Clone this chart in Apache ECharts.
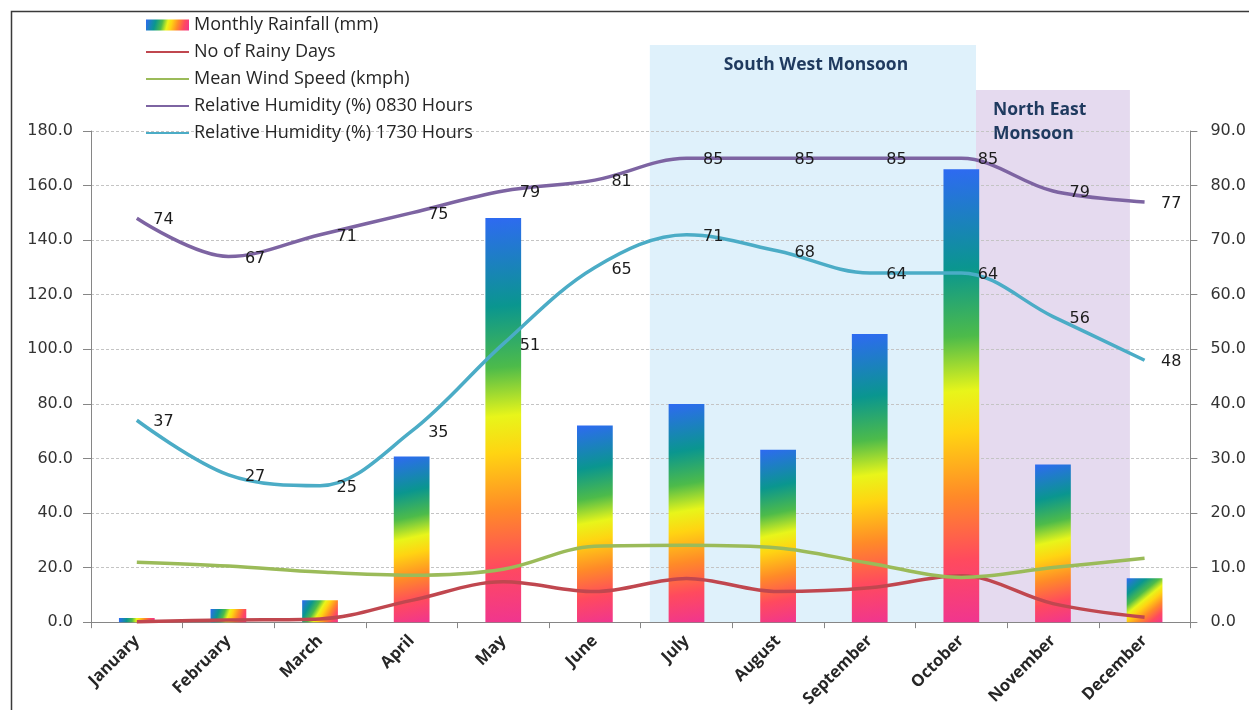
<!DOCTYPE html>
<html>
<head>
<meta charset="utf-8">
<title>Monthly Climate</title>
<script src="https://cdn.jsdelivr.net/npm/echarts@6/dist/echarts.min.js"></script>
<style>
  html, body { margin: 0; padding: 0; background: #ffffff; }
  #chart { width: 1249px; height: 710px; }
</style>
</head>
<body>
<div id="chart"></div>
<script>
// Month categories and monthly climate values
const months = ['January', 'February', 'March', 'April', 'May', 'June',
  'July', 'August', 'September', 'October', 'November', 'December'];
const rainfall = [1.5, 4.8, 8.0, 60.7, 148.1, 72.1, 80.0, 63.2, 105.6, 166.0, 57.8, 16.1];
const rainyDays = [0.1, 0.4, 0.6, 4.0, 7.4, 5.6, 8.0, 5.6, 6.3, 8.5, 3.4, 0.9];
const windSpeed = [11.0, 10.3, 9.2, 8.6, 9.7, 13.9, 14.1, 13.6, 10.8, 8.2, 10.0, 11.7];
const rhMorning = [74, 67, 71, 75, 79, 81, 85, 85, 85, 85, 79, 77];
const rhEvening = [37, 27, 25, 35, 51, 65, 71, 68, 64, 64, 56, 48];

// Axis ranges and tick steps
const leftAxisRange = [0, 180, 20];
const rightAxisRange = [0, 90, 10];

// Monsoon seasons, in month-band units along x and rainfall units for the top edge
const monsoons = [
  { x0: 6.1, x1: 9.66, top: 211.5, color: '#dff1fb', lines: ['South West Monsoon'], align: 'center' },
  { x0: 9.66, x1: 11.34, top: 195.0, color: '#e5daef', lines: ['North East', 'Monsoon'], align: 'left' }
];

const rainbow = {
  type: 'linear', x: 0, y: 0, x2: 1, y2: 1,
  colorStops: [
    { offset: 0.00, color: '#2e6af2' },
    { offset: 0.22, color: '#0a968f' },
    { offset: 0.37, color: '#4dbb4a' },
    { offset: 0.49, color: '#e8f51a' },
    { offset: 0.58, color: '#ffd412' },
    { offset: 0.72, color: '#ff8a28' },
    { offset: 0.86, color: '#ff4a5e' },
    { offset: 1.00, color: '#f0358f' }
  ]
};

const labelFont = 'DejaVu Sans';
const textFont = 'Open Sans';

function rhLabel() {
  return {
    show: true, position: 'right', distance: 16, offset: [0, 2],
    fontFamily: labelFont, fontSize: 16, color: '#1c1c1c'
  };
}

function lineSeries(name, data, color, withLabels) {
  const s = {
    name: name, type: 'line', yAxisIndex: 1, data: data,
    smooth: 0.35, symbol: 'circle', symbolSize: 1, showSymbol: true,
    lineStyle: { color: color, width: 3.5 },
    itemStyle: { color: 'rgba(0,0,0,0)' }, z: withLabels ? 4 : 3
  };
  if (withLabels) s.label = rhLabel();
  return s;
}

const chart = echarts.init(document.getElementById('chart'), null, { renderer: 'canvas' });

chart.setOption({
  animation: false,
  backgroundColor: '#ffffff',
  legend: {
    orient: 'vertical', left: 145, top: 16, padding: 0,
    itemWidth: 43, itemHeight: 11, itemGap: 9,
    textStyle: { fontFamily: textFont, fontSize: 18, color: '#262626', lineHeight: 17 },
    data: [
      { name: 'Monthly Rainfall (mm)', icon: 'rect' },
      'No of Rainy Days', 'Mean Wind Speed (kmph)',
      'Relative Humidity (%) 0830 Hours', 'Relative Humidity (%) 1730 Hours'
    ]
  },
  grid: { left: 91, right: 53, top: 131, bottom: 87 },
  xAxis: [
    {
      type: 'category', data: months, boundaryGap: true,
      axisLine: { lineStyle: { color: '#868686', width: 1 } },
      axisTick: { show: true, alignWithLabel: false, length: 6, lineStyle: { color: '#868686' } },
      axisLabel: {
        rotate: 45, interval: 0, margin: 16,
        fontFamily: textFont, fontSize: 16.5, fontWeight: 'bold', color: '#262626'
      },
      splitLine: { show: false }
    },
    { type: 'value', min: 0, max: 12, show: false }
  ],
  yAxis: [
    {
      type: 'value', min: leftAxisRange[0], max: leftAxisRange[1], interval: leftAxisRange[2],
      axisLine: { show: true, lineStyle: { color: '#868686' } },
      axisTick: { show: true, length: 8, lineStyle: { color: '#868686' } },
      axisLabel: { margin: 18, fontFamily: labelFont, fontSize: 16, color: '#333333', formatter: v => v.toFixed(1) },
      splitLine: { show: true, lineStyle: { color: '#c4c4c4', type: [3, 2], width: 1 } }
    },
    {
      type: 'value', position: 'right',
      min: rightAxisRange[0], max: rightAxisRange[1], interval: rightAxisRange[2],
      axisLine: { show: true, lineStyle: { color: '#868686' } },
      axisTick: { show: true, length: 7, lineStyle: { color: '#868686' } },
      axisLabel: { margin: 20, fontFamily: labelFont, fontSize: 16, color: '#333333', formatter: v => v.toFixed(1) },
      splitLine: { show: false }
    }
  ],
  series: [
    {
      name: 'Monthly Rainfall (mm)', type: 'bar', yAxisIndex: 0,
      barWidth: '39%', data: rainfall,
      itemStyle: { color: rainbow }, z: 2
    },
    lineSeries('No of Rainy Days', rainyDays, '#c0474f', false),
    lineSeries('Mean Wind Speed (kmph)', windSpeed, '#9bbb59', false),
    lineSeries('Relative Humidity (%) 0830 Hours', rhMorning, '#7d64a2', true),
    lineSeries('Relative Humidity (%) 1730 Hours', rhEvening, '#4bacc6', true)
  ]
});

// Season bands, season titles and the outer frame, placed through the axes
function seasonGraphics() {
  const els = [];
  monsoons.forEach(m => {
    const p0 = chart.convertToPixel({ xAxisIndex: 1, yAxisIndex: 0 }, [m.x0, m.top]);
    const p1 = chart.convertToPixel({ xAxisIndex: 1, yAxisIndex: 0 }, [m.x1, 0]);
    els.push({
      type: 'rect', z: -10, silent: true,
      shape: { x: p0[0], y: p0[1], width: p1[0] - p0[0], height: p1[1] - p0[1] },
      style: { fill: m.color }
    });
    els.push({
      type: 'text', z: 10, silent: true,
      x: m.align === 'center' ? (p0[0] + p1[0]) / 2 + 3 : p0[0] + 17,
      y: p0[1] + 8,
      style: {
        text: m.lines.join('\n'), align: m.align, verticalAlign: 'top',
        fontFamily: textFont, fontSize: 17.5, fontWeight: 'bold', lineHeight: 24,
        fill: '#1f3a5f'
      }
    });
  });
  els.push({
    type: 'rect', z: 20, silent: true,
    shape: { x: 11.5, y: 11.5, width: 1400, height: 900 },
    style: { fill: 'none', stroke: '#3a3a3a', lineWidth: 1.5 }
  });
  return els;
}

chart.setOption({ graphic: { elements: seasonGraphics() } });
</script>
</body>
</html>
